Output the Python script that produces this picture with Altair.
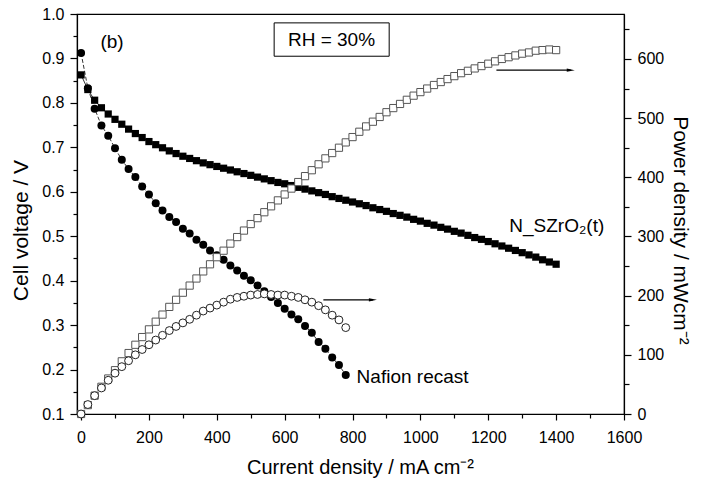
import altair as alt
import pandas as pd

# ---------------- data ----------------
# Nafion recast: current density (mA cm-2), cell voltage (V), power density (mW cm-2)
naf_I = [0, 20, 40, 60, 80, 100, 120, 140, 160, 180, 200, 220, 240, 260, 280, 300, 320, 340, 360, 380,
         400, 420, 440, 460, 480, 500, 520, 540, 560, 580, 600, 620, 640, 660, 680, 700, 720, 740, 760, 780]
naf_V = [0.912, 0.833, 0.787, 0.749, 0.726, 0.698, 0.672, 0.651, 0.633, 0.612, 0.594, 0.574, 0.558, 0.543,
         0.532, 0.517, 0.506, 0.492, 0.481, 0.468, 0.457, 0.447, 0.434, 0.423, 0.411, 0.401, 0.389, 0.376,
         0.363, 0.350, 0.337, 0.324, 0.313, 0.298, 0.283, 0.262, 0.247, 0.227, 0.210, 0.188]
naf_P = [0, 16, 31, 44, 57, 69, 80, 90, 100, 109, 117, 125, 133, 141, 148, 154, 160, 167, 174, 179,
         184, 189, 194, 197, 199, 201, 202, 203, 202, 201, 201, 199, 197, 193, 189, 183, 176, 167, 159, 146]

# N_SZrO2(t)
szr_I = [0, 20, 40, 60, 80, 100, 120, 140, 160, 180, 200, 220, 240, 260, 280, 300, 320, 340, 360, 380,
         400, 420, 440, 460, 480, 500, 520, 540, 560, 580, 600, 620, 640, 660, 680, 700, 720, 740, 760, 780,
         800, 820, 840, 860, 880, 900, 920, 940, 960, 980, 1000, 1020, 1040, 1060, 1080, 1100, 1120, 1140,
         1160, 1180, 1200, 1220, 1240, 1260, 1280, 1300, 1320, 1340, 1360, 1380, 1400]
szr_V = [0.863, 0.830, 0.806, 0.789, 0.775, 0.763, 0.752, 0.741, 0.731, 0.722, 0.713, 0.706, 0.699, 0.692,
         0.686, 0.680, 0.675, 0.670, 0.665, 0.661, 0.657, 0.653, 0.649, 0.645, 0.641, 0.637, 0.633, 0.629,
         0.625, 0.621, 0.618, 0.614, 0.610, 0.606, 0.602, 0.598, 0.594, 0.589, 0.585, 0.581, 0.577, 0.573,
         0.569, 0.564, 0.560, 0.556, 0.551, 0.547, 0.543, 0.538, 0.534, 0.529, 0.525, 0.520, 0.516, 0.511,
         0.507, 0.502, 0.497, 0.493, 0.488, 0.483, 0.478, 0.473, 0.468, 0.463, 0.458, 0.453, 0.447, 0.442,
         0.437]
szr_P = [0, 15, 31, 46, 60, 74, 89, 103, 117, 130, 143, 156, 168, 181, 193, 205, 217, 229, 241, 253,
         265, 276, 288, 299, 310, 321, 331, 341, 351, 361, 371, 381, 392, 402, 412, 422, 432, 441, 450, 459,
         468, 477, 486, 494, 502, 510, 517, 524, 531, 538, 544, 550, 556, 561, 566, 571, 576, 580, 584, 588,
         592, 596, 600, 603, 606, 609, 611, 614, 615, 616, 615]

# annotation texts
panel_label = "(b)"
rh_label = "RH = 30%"
szr_label = "N_SZrO\u2082(t)"
naf_label = "Nafion recast"

x_title = "Current density / mA cm\u207b\u00b2"
yl_title = "Cell voltage / V"
yr_title = "Power density / mWcm\u207b\u00b2"

x_ticks = [0, 100, 200, 300, 400, 500, 600, 700, 800, 900, 1000, 1100, 1200, 1300, 1400, 1500, 1600]
yl_ticks = [0.1, 0.15, 0.2, 0.25, 0.3, 0.35, 0.4, 0.45, 0.5, 0.55, 0.6, 0.65, 0.7, 0.75, 0.8, 0.85, 0.9, 0.95, 1.0]
yr_ticks = [0, 50, 100, 150, 200, 250, 300, 350, 400, 450, 500, 550, 600, 650]

# ---------------- frames ----------------
naf = pd.DataFrame({"I": naf_I, "V": naf_V, "P": naf_P})
szr = pd.DataFrame({"I": szr_I, "V": szr_V, "P": szr_P})

FONT = "Liberation Sans"
W, H = 547, 400

xscale = alt.Scale(domain=[-12, 1600], nice=False, zero=False)
ylscale = alt.Scale(domain=[0.1, 1.0], nice=False, zero=False)
yrscale = alt.Scale(domain=[0, 676], nice=False, zero=False)

xaxis = alt.Axis(
    title=x_title, values=x_ticks, format="d",
    labelExpr="datum.value % 200 === 0 ? datum.label : ''",
    tickSize={"condition": {"test": "datum.value % 200 === 0", "value": 6}, "value": 4},
    labelPadding=9, titlePadding=12, titleX=283, labelFlush=False, labelOverlap=False,
)
ylaxis = alt.Axis(
    title=yl_title, values=yl_ticks, format=".1f",
    labelExpr="abs(datum.value*10 - round(datum.value*10)) < 0.001 ? datum.label : ''",
    tickSize={"condition": {"test": "abs(datum.value*10 - round(datum.value*10)) < 0.001", "value": 7}, "value": 4},
    labelPadding=6, titlePadding=10, titleFontSize=21, titleY=216, labelFlush=False, labelOverlap=False,
)
yraxis = alt.Axis(
    title=yr_title, orient="right", values=yr_ticks,
    labelExpr="datum.value % 100 === 0 ? datum.label : ''",
    tickSize={"condition": {"test": "datum.value % 100 === 0", "value": 7}, "value": 5},
    labelPadding=6, titlePadding=6, titleFontSize=21, titleY=216, labelFlush=False, labelOverlap=False,
)

X = alt.X("I:Q", scale=xscale, axis=xaxis)
YL = alt.Y("V:Q", scale=ylscale, axis=ylaxis)
YR = alt.Y("P:Q", scale=yrscale, axis=yraxis)

# ---- left (voltage) layer ----
naf_line = alt.Chart(naf).mark_line(color="black", strokeWidth=0.8, strokeDash=[4, 2]).encode(x=X, y=YL)
naf_pts = alt.Chart(naf).mark_point(shape="circle", filled=True, color="black", size=64, opacity=1).encode(x=X, y=YL)
szr_line = alt.Chart(szr).mark_line(color="black", strokeWidth=0.8).encode(x=X, y=YL)
szr_pts = alt.Chart(szr).mark_point(shape="square", filled=True, color="black", size=52, opacity=1).encode(x=X, y=YL)

txt_left = pd.DataFrame({
    "I": [57, 1262, 812],
    "V": [0.937, 0.523, 0.183],
    "t": [panel_label, szr_label, naf_label],
})
texts = alt.Chart(txt_left).mark_text(font=FONT, fontSize=19, align="left", baseline="middle", color="black").encode(
    x=X, y=YL, text="t:N")
box = pd.DataFrame({"I": [569], "I2": [908], "V": [0.980], "V2": [0.905]})
rh_box = alt.Chart(box).mark_rect(fill="white", stroke="black", strokeWidth=1).encode(
    x=X, x2="I2:Q", y=YL, y2="V2:Q")
rh_txt = alt.Chart(pd.DataFrame({"I": [738], "V": [0.942], "t": [rh_label]})).mark_text(
    font=FONT, fontSize=19, align="center", baseline="middle", color="black").encode(x=X, y=YL, text="t:N")

left = alt.layer(naf_line, szr_line, naf_pts, szr_pts, rh_box, rh_txt, texts)

# ---- right (power) layer ----
naf_pow = alt.Chart(naf).mark_point(shape="circle", filled=True, fill="white", stroke="#222222",
                                    strokeWidth=1, size=62, opacity=1).encode(x=X, y=YR)
szr_pow = alt.Chart(szr).mark_point(shape="square", filled=True, fill="white", stroke="#555555",
                                    strokeWidth=1, size=52, opacity=1).encode(x=X, y=YR)
arrows = pd.DataFrame({"I": [1224, 714], "I2": [1443, 860], "P": [581, 193]})
arrow_lines = alt.Chart(arrows).mark_rule(color="black", strokeWidth=1.2).encode(x=X, x2="I2:Q", y=YR)
arrow_heads = alt.Chart(arrows).mark_point(shape="M -1 -0.4 L 1 0 L -1 0.4 Z", filled=True, color="black",
                                           size=64, opacity=1).encode(x=alt.X("I2:Q", scale=xscale, axis=xaxis), y=YR)

right = alt.layer(szr_pow, naf_pow, arrow_lines, arrow_heads)

chart = alt.layer(left, right).resolve_scale(y="independent").properties(
    width=W, height=H,
    autosize=alt.AutoSizeParams(type="none"),
    padding={"left": 69, "top": 6, "right": 74, "bottom": 66},
).configure_view(
    stroke="black", strokeWidth=1.2
).configure_axis(
    grid=False, domainColor="black", domainWidth=1.2, tickColor="black", tickWidth=1.2,
    labelColor="black", labelFont=FONT, labelFontSize=16,
    titleColor="black", titleFont=FONT, titleFontSize=20, titleFontWeight="normal",
)

chart.save("out.html", embed_options={"renderer": "svg", "actions": False})
